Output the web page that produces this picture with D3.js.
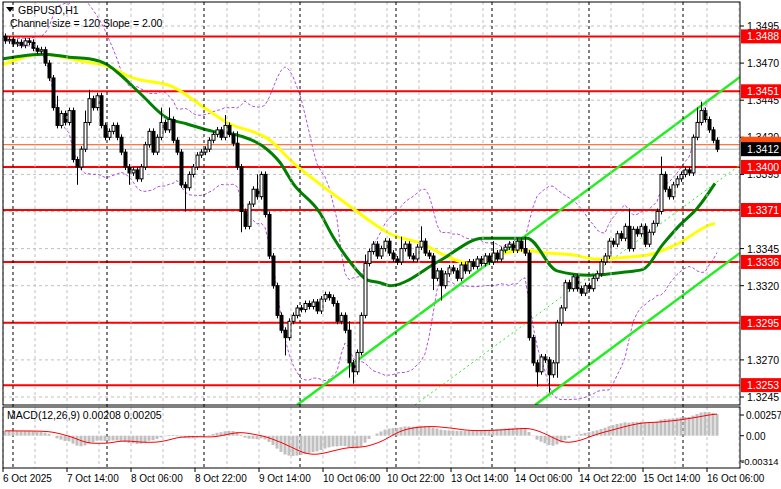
<!DOCTYPE html><html><head><meta charset="utf-8"><script src="https://cdn.jsdelivr.net/npm/d3@7"></script>
<style>body{margin:0;background:#fff}</style></head><body><svg id="c" width="781" height="489"></svg><script>
const closes=[3485,3486,3483,3484,3482,3485,3484,3480,3478,3479,3470,3460,3440,3428,3436,3430,3438,3405,3400,3412,3430,3446,3440,3448,3428,3420,3424,3428,3420,3410,3400,3396,3398,3392,3400,3415,3424,3410,3420,3430,3425,3432,3418,3410,3388,3386,3395,3400,3408,3410,3412,3418,3422,3425,3420,3428,3422,3416,3400,3370,3360,3375,3385,3380,3395,3368,3340,3320,3300,3290,3285,3296,3300,3305,3304,3308,3306,3309,3303,3311,3314,3312,3308,3296,3300,3290,3268,3262,3275,3300,3335,3343,3348,3340,3345,3350,3342,3338,3336,3345,3348,3340,3338,3346,3350,3342,3340,3325,3330,3320,3328,3332,3330,3325,3334,3330,3336,3333,3338,3335,3340,3336,3342,3338,3344,3346,3348,3344,3350,3345,3342,3285,3268,3262,3272,3270,3260,3268,3295,3305,3322,3318,3326,3318,3315,3320,3318,3325,3328,3336,3340,3350,3348,3355,3352,3360,3345,3358,3355,3360,3348,3356,3362,3370,3395,3385,3380,3388,3392,3395,3398,3396,3420,3430,3438,3432,3425,3418,3412];
const extraHigh={13:6,20:6,21:4,39:8,41:6,55:5,58:6,63:8,86:4,90:4,99:6,104:8,122:6,130:6,156:10,164:10,173:8,174:4};
const extraLow={18:10,31:6,45:14,59:12,70:10,86:8,87:6,107:6,109:8,133:8,136:10,138:8};
const levels=[3488,3451,3400,3371,3336,3295,3253];
const ticks=[3495,3470,3445,3420,3395,3345,3320,3270,3245];
const dateLabels=["6 Oct 2025","7 Oct 14:00","8 Oct 06:00","8 Oct 22:00","9 Oct 14:00","10 Oct 06:00","10 Oct 22:00","13 Oct 14:00","14 Oct 06:00","14 Oct 22:00","15 Oct 14:00","16 Oct 06:00"];
const greenMA=[[-0.5,3473],[10,3476],[16,3474],[21,3473],[25.5,3469],[28,3464],[34,3449],[40.5,3433],[45.5,3429],[52,3424],[58.75,3421],[64.5,3414],[68.75,3403],[72,3389],[78.75,3369],[82,3353],[86,3337],[90.5,3324],[93.75,3322],[96.25,3320],[108.75,3337],[119.5,3352],[130.5,3352],[138,3330],[146.25,3327],[154.5,3329],[159.5,3331],[164.5,3348],[168.75,3361],[173,3372],[177.5,3389]];
const yellowMA=[[-0.5,3469],[9.5,3476],[19.5,3471],[25.5,3468],[32,3460],[42,3454],[48.75,3442],[55.5,3430],[66.25,3418],[72,3403],[78,3390],[87,3372],[90.5,3365],[96.25,3355],[104.5,3348],[109.5,3341],[116.25,3335],[123.75,3341],[129.5,3344],[135.5,3342],[141.25,3341],[148,3338],[154.5,3339],[161.25,3341],[168,3348],[176.25,3361],[177.5,3362]];
const channelUpper=[[73,3239.6],[183.75,3460.6]];
const channelMid=[[102.5,3239.6],[183.75,3401.3]];
const channelLower=[[132.5,3239.6],[183.75,3342]];
const P=v=>1+v/1e4;
const svg=d3.select("#c");
const L=3,R=740,T=2,B=405,MT=407,MB=468;
const x=d3.scaleLinear().domain([0,1]).range([5,9]);
const y=d3.scaleLinear().domain([1.3245,1.3495]).range([397,26]);
svg.append("defs").append("clipPath").attr("id","cp").append("rect").attr("x",L).attr("y",T).attr("width",R-L).attr("height",B-T);
svg.append("defs").append("clipPath").attr("id","cp2").append("rect").attr("x",L).attr("y",MT).attr("width",R-L).attr("height",MB-MT);
const g=svg.append("g").attr("clip-path","url(#cp)");
d3.range(-0.5,186,8).forEach(i=>{[[T,B],[MT,MB]].forEach(([a,b])=>svg.append("line").attr("x1",x(i)).attr("x2",x(i)).attr("y1",a).attr("y2",b).attr("stroke","#c0c0c0").attr("stroke-dasharray","3,3"));});
[...ticks,3370,3295].forEach(t=>g.append("line").attr("x1",L).attr("x2",R).attr("y1",y(P(t))).attr("y2",y(P(t))).attr("stroke","#c0c0c0").attr("stroke-dasharray","3,3"));
[2,25.5,49.75,73.75,97.75,121.75,146,169.5].forEach(i=>{svg.append("line").attr("x1",x(i)).attr("x2",x(i)).attr("y1",T).attr("y2",MB).attr("stroke","#000").attr("stroke-dasharray","3,3");});
const closeP=closes.map(P);
const bb=closeP.map((c,i)=>{const w=closeP.slice(Math.max(0,i-19),i+1);const m=d3.mean(w);const s=Math.sqrt(d3.mean(w.map(v=>(v-m)**2)));return [m+2*s,m-2*s];});
const line=d3.line().x(d=>x(d[0])).y(d=>y(d[1]));
[0,1].forEach(k=>g.append("path").attr("d",line(bb.map((d,i)=>[i,d[k]]).slice(3))).attr("fill","none").attr("stroke","#b050e0").attr("stroke-dasharray","3,2").attr("stroke-width",1));
levels.forEach(l=>g.append("line").attr("x1",L).attr("x2",R).attr("y1",y(P(l))).attr("y2",y(P(l))).attr("stroke","#ff0000").attr("stroke-width",2));
g.append("line").attr("x1",L).attr("x2",R).attr("y1",y(P(3415))).attr("y2",y(P(3415))).attr("stroke","#ff5010").attr("stroke-width",1);
g.append("line").attr("x1",L).attr("x2",R).attr("y1",y(P(3412))).attr("y2",y(P(3412))).attr("stroke","#b0b0b0").attr("stroke-width",1);
const ext=(pts,a,b)=>{const[[i0,p0],[i1,p1]]=pts;const k=(p1-p0)/(i1-i0);return [[a,P(p0+k*(a-i0))],[b,P(p0+k*(b-i0))]];};
g.append("path").attr("d",line(ext(channelUpper,73,183.75))).attr("stroke","#22ee22").attr("stroke-width",2.5).attr("fill","none");
g.append("path").attr("d",line(ext(channelLower,132.5,183.75))).attr("stroke","#22ee22").attr("stroke-width",2.5).attr("fill","none");
g.append("path").attr("d",line(ext(channelMid,102.5,183.75))).attr("stroke","#22ee22").attr("stroke-dasharray","2,3").attr("fill","none");
const cl=d3.line().x(d=>x(d[0])).y(d=>y(P(d[1]))).curve(d3.curveMonotoneX);
g.append("path").attr("d",cl(yellowMA)).attr("stroke","#ffff00").attr("stroke-width",3).attr("fill","none");
g.append("path").attr("d",cl(greenMA)).attr("stroke","#008000").attr("stroke-width",3).attr("fill","none");
closes.forEach((c,i)=>{const o=i?closes[i-1]:3488;const hi=Math.max(o,c)+2+(extraHigh[i]||0);const lo=Math.min(o,c)-2-(extraLow[i]||0);
 const cx=Math.round(x(i))+0.5;
 g.append("line").attr("x1",cx).attr("x2",cx).attr("y1",y(P(hi))).attr("y2",y(P(lo))).attr("stroke","#000");
 const top=y(P(Math.max(o,c))),bot=y(P(Math.min(o,c)));
 g.append("rect").attr("x",cx-1.5).attr("y",top).attr("width",3).attr("height",Math.max(1,bot-top)).attr("fill",c>=o?"#fff":"#000").attr("stroke","#000").attr("stroke-width",1);
});
const ema=(arr,n)=>{const k=2/(n+1);let e=arr[0];return arr.map(v=>e=v*k+e*(1-k));};
const e12=ema(closeP,12),e26=ema(closeP,26);
const macd=closeP.map((v,i)=>e12[i]-e26[i]+0.0006);
const sig=macd.map((v,i)=>d3.mean(macd.slice(Math.max(0,i-8),i+1)));
const ym=d3.scaleLinear().domain([-0.00314,0.00257]).range([461,415]);
const g2=svg.append("g").attr("clip-path","url(#cp2)");
macd.forEach((m,i)=>g2.append("rect").attr("x",x(i)-1.5).attr("width",3).attr("y",Math.min(ym(0),ym(m))).attr("height",Math.abs(ym(m)-ym(0))).attr("fill","#c0c0c0"));
g2.append("path").attr("d",d3.line().x((d,i)=>x(i)).y(d=>ym(d))(sig)).attr("stroke","#ff0000").attr("fill","none");
svg.append("rect").attr("x",L).attr("y",T).attr("width",R-L).attr("height",B-T).attr("fill","none").attr("stroke","#000");
svg.append("rect").attr("x",L).attr("y",MT).attr("width",R-L).attr("height",MB-MT).attr("fill","none").attr("stroke","#000");
const F="Liberation Sans, Arial, sans-serif";
const FS=10.5;
ticks.forEach(t=>{svg.append("line").attr("x1",R).attr("x2",R+4).attr("y1",y(P(t))).attr("y2",y(P(t))).attr("stroke","#000");svg.append("text").attr("x",R+7).attr("y",y(P(t))+4).text("1."+t).attr("font-family",F).attr("font-size",FS);});
svg.append("rect").attr("x",R+1).attr("y",y(P(3415))-8).attr("width",40).attr("height",12).attr("fill","#ff5010");
levels.forEach(l=>{const yy=y(P(l));svg.append("rect").attr("x",R+1).attr("y",yy-7).attr("width",40).attr("height",14).attr("fill","#ff0000");svg.append("text").attr("x",R+7).attr("y",yy+4).text("1."+l).attr("font-family",F).attr("font-size",FS).attr("fill","#fff");});
{const yy=y(P(3412));svg.append("rect").attr("x",R+1).attr("y",yy-7).attr("width",40).attr("height",14).attr("fill","#000");svg.append("text").attr("x",R+7).attr("y",yy+4).text("1.3412").attr("font-family",F).attr("font-size",FS).attr("fill","#fff");}
[[0.00257,"0.00257"],[0,"0.00"],[-0.00314,"-0.00314"]].forEach(([v,t])=>{svg.append("line").attr("x1",R).attr("x2",R+4).attr("y1",ym(v)).attr("y2",ym(v)).attr("stroke","#000");svg.append("text").attr("x",v<0?R+1:R+6).attr("y",ym(v)+4).text(t).attr("font-family",F).attr("font-size",v<0?9.5:10);});
dateLabels.forEach((d,k)=>{const xx=x(-0.5+k*16);svg.append("line").attr("x1",xx).attr("x2",xx).attr("y1",MB).attr("y2",MB+4).attr("stroke","#000");svg.append("text").attr("x",Math.max(xx,2)).attr("y",482).text(d).attr("font-family",F).attr("font-size",10);});
svg.append("path").attr("d","M6,7 L14,7 L10,12 Z").attr("fill","#000");
svg.append("text").attr("x",18).attr("y",14).text("GBPUSD,H1").attr("font-family",F).attr("font-size",FS);
svg.append("text").attr("x",10).attr("y",27).text("Channel size = 120 Slope = 2.00").attr("font-family",F).attr("font-size",FS);
svg.append("text").attr("x",7).attr("y",419).text("MACD(12,26,9) 0.00208 0.00205").attr("font-family",F).attr("font-size",FS);
</script></body></html>
